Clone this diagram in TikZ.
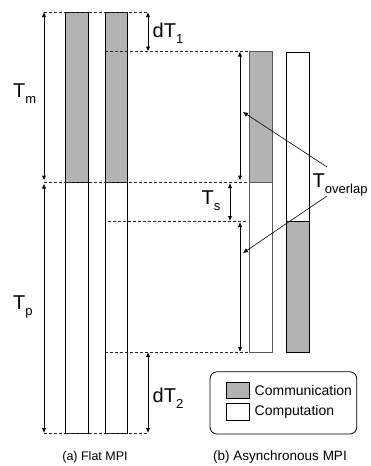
\documentclass[tikz,border=0pt]{standalone}
\usepackage{fontspec}
\setmainfont{Liberation Sans}
\usetikzlibrary{arrows.meta}
\definecolor{commgray}{RGB}{179,179,179}
\tikzset{
  bar/.style={draw=black, line width=0.8pt},
  guide/.style={draw=black!85, dash pattern=on 3pt off 2pt, line width=0.6pt},
  span/.style={line width=1pt, {Latex[length=5pt,width=4.5pt]}-{Latex[length=5pt,width=4.5pt]}},
  pointer/.style={line width=0.6pt, -{Latex[length=5pt,width=4.5pt]}},
  biglabel/.style={inner sep=0pt, anchor=base west, font=\fontsize{20}{24}\selectfont},
  legtext/.style={inner sep=0pt, anchor=west, font=\fontsize{14}{16}\selectfont},
  swatch/.style={draw=black, line width=0.7pt, inner sep=0pt, minimum width=22.6pt, minimum height=16.5pt},
  caption/.style={inner sep=0pt, anchor=base, font=\fontsize{12.5}{15}\selectfont},
}
\newcommand\symsub[2]{#1\raisebox{-6pt}{\fontsize{13}{13}\selectfont #2}}
\begin{document}
\begin{tikzpicture}[x=1pt,y=-1pt]
\useasboundingbox (0,0) rectangle (371,466);

% --- (a) flat MPI: two processes, communication then computation
\filldraw[bar, fill=commgray] (65,12) rectangle (88,182);
\filldraw[bar, fill=white]    (65,182) rectangle (88,433);
\filldraw[bar, fill=commgray] (105,12) rectangle (127,182);
\filldraw[bar, fill=white]    (105,182) rectangle (127,433);

% --- (b) asynchronous MPI: communication overlapped with computation
\filldraw[bar, draw=black!65, fill=commgray] (249,51.5) rectangle (272,182);
\filldraw[bar, draw=black!65, fill=white]    (249,182) rectangle (272,352);
\filldraw[bar, fill=white]    (286.5,52) rectangle (309,221);
\filldraw[bar, fill=commgray] (286.5,221) rectangle (309,352);

% --- dashed time levels
\draw[guide] (44,12) -- (148,12);
\draw[guide] (105,51.5) -- (248,51.5);
\draw[guide] (44,182) -- (248,182);
\draw[guide] (108,221) -- (248,221);
\draw[guide] (105,352) -- (248,352);
\draw[guide] (44,433) -- (148,433);

% --- end points of the spans
\coordinate (tmA) at (44,12);   \coordinate (tmB) at (44,182);
\coordinate (tpB) at (44,433);
\coordinate (dtA) at (148,12);  \coordinate (dtB) at (148,51.5);
\coordinate (dtC) at (148,352); \coordinate (dtD) at (148,433);
\coordinate (ovA) at (240,51.5); \coordinate (ovB) at (240,182);
\coordinate (tsA) at (230,182); \coordinate (tsB) at (230,221);
\coordinate (ovC) at (240,221); \coordinate (ovD) at (240,352);

\draw[span, shorten >=1.5pt] (tmA) -- (tmB);
\draw[span, shorten <=1.5pt] (tmB) -- (tpB);
\draw[span] (dtA) -- (dtB);
\draw[span] (dtC) -- (dtD);
\draw[span, shorten >=1.5pt] (ovA) -- (ovB);
\draw[span, shorten <=1pt] (tsA) -- (tsB);
\draw[span, shorten <=1pt] (ovC) -- (ovD);

% --- labels
\node[biglabel] (lTm) at (13,97)  {\symsub{T}{m}};
\node[biglabel] (lTp) at (13,309) {\symsub{T}{p}};
\node[biglabel] (ldT1) at (152.5,37) {\symsub{dT}{1}};
\node[biglabel] (ldT2) at (152.5,402) {\symsub{dT}{2}};
\node[biglabel] (lTs) at (201.5,204) {\symsub{T}{s}};
\node[biglabel] (lTo) at (312.5,187) {\symsub{T}{overlap}};

% --- pointers from the overlap label to both overlap spans
\coordinate (poA) at (327,167);
\coordinate (poB) at (327,196);
\coordinate (ovMidTop) at (243,112);
\coordinate (ovMidBot) at (243,253);
\draw[pointer] (poA) -- (ovMidTop);
\draw[pointer] (poB) -- (ovMidBot);

% --- legend
\node[draw=black, line width=0.8pt, rounded corners=7pt, minimum width=146.7pt,
      minimum height=62.3pt, inner sep=0pt] (legend) at (283.4,402.9) {};
\node[swatch, fill=commgray] (swComm) at (238,390.5) {};
\node[swatch, fill=white]    (swComp) at (238,411.7) {};
\node[legtext] (tComm) at (254.5,390.5) {Communication};
\node[legtext] (tComp) at (254.5,411.7) {Computation};

% --- captions
\node[caption] (capA) at (95,460) {(a) Flat MPI};
\node[caption, font=\fontsize{13.5}{16}\selectfont] (capB) at (280,460) {(b) Asynchronous MPI};
\end{tikzpicture}
\end{document}
